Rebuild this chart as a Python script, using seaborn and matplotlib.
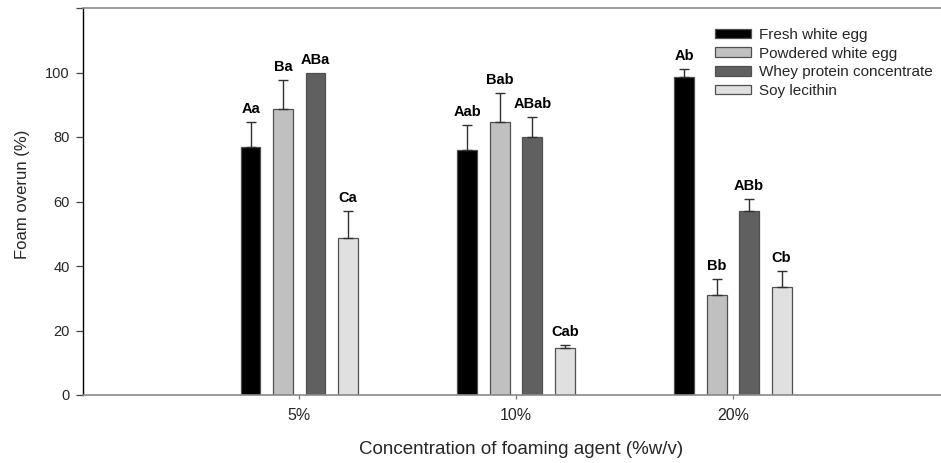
import matplotlib
matplotlib.use("Agg")
import matplotlib.pyplot as plt
import seaborn as sns
import pandas as pd
import numpy as np

# Foam overrun by foaming agent and concentration
concentrations = ["5%", "10%", "20%"]
agents = ["Fresh white egg", "Powdered white egg", "Whey protein concentrate", "Soy lecithin"]

fresh_egg = [76.8, 76.0, 98.5]
powdered_egg = [88.7, 84.5, 31.1]
whey = [100.0, 79.9, 57.0]
soy = [48.7, 14.5, 33.6]

fresh_egg_sd = [8.0, 7.8, 2.7]
powdered_egg_sd = [8.9, 9.0, 5.0]
whey_sd = [0.0, 6.2, 3.8]
soy_sd = [8.2, 1.0, 4.9]

fresh_egg_lbl = ["Aa", "Aab", "Ab"]
powdered_egg_lbl = ["Ba", "Bab", "Bb"]
whey_lbl = ["ABa", "ABab", "ABb"]
soy_lbl = ["Ca", "Cab", "Cb"]

colors = ["#000000", "#c0c0c0", "#606060", "#e0e0e0"]

values = [fresh_egg, powdered_egg, whey, soy]
errors = [fresh_egg_sd, powdered_egg_sd, whey_sd, soy_sd]
letters = [fresh_egg_lbl, powdered_egg_lbl, whey_lbl, soy_lbl]

df = pd.DataFrame({
    "concentration": [c for _ in agents for c in concentrations],
    "agent": [a for a in agents for _ in concentrations],
    "overrun": [v for series in values for v in series],
})

sns.set_theme(style="white")
plt.rcParams["font.family"] = ["Liberation Sans", "DejaVu Sans"]

fig = plt.figure(figsize=(9.41, 4.63), dpi=100)
W, H = 941, 463
ax = fig.add_axes([82.5 / W, 1 - 395 / H, (949.7 - 82.5) / W, (395 - 8) / H])

sns.barplot(
    data=df, x="concentration", y="overrun", hue="agent",
    order=concentrations, hue_order=agents, palette=colors,
    width=0.6, gap=0.39, errorbar=None, edgecolor="#505050",
    linewidth=0.9, ax=ax, legend=True,
)

# Upper-only error bars (skipped where the SD is zero) and significance letters
for container, err, lbl in zip(ax.containers, errors, letters):
    xs = np.array([p.get_x() + p.get_width() / 2 for p in container.patches])
    hs = np.array([p.get_height() for p in container.patches])
    err = np.asarray(err)
    has_err = err > 0
    ax.errorbar(xs[has_err], hs[has_err],
                yerr=[np.zeros(has_err.sum()), err[has_err]], fmt="none",
                ecolor="#303030", elinewidth=1.0, capsize=3.8, capthick=1.0,
                zorder=1)
    for x, h, e, t in zip(xs, hs, err, lbl):
        ax.annotate(t, (x, h + e), xytext=(0, 6), textcoords="offset pixels",
                    ha="center", va="bottom", fontsize=10.5,
                    fontweight="bold", color="#000000")

ax.set_xlim(-1, 3)
ax.set_ylim(0, 120)
ax.set_yticks([0, 20, 40, 60, 80, 100, 120])
ax.set_yticklabels(["0", "20", "40", "60", "80", "100", ""])

ax.set_xlabel("Concentration of foaming agent (%w/v)", fontsize=13.5)
ax.set_ylabel("Foam overun (%)", fontsize=12)
ax.xaxis.set_label_coords(0.5057, -0.119)
ax.yaxis.set_label_coords(-0.0605, 0.519)

ax.tick_params(axis="y", direction="out", length=5, width=0.9, color="#444444",
               labelsize=10.5, pad=4, left=True)
ax.tick_params(axis="x", direction="out", length=3, width=0.9, color="#777777",
               labelsize=11.5, pad=6, bottom=True)

for side in ["top", "bottom", "right"]:
    ax.spines[side].set_color("#8a8a8a")
    ax.spines[side].set_linewidth(1.2)
ax.spines["left"].set_color("#000000")
ax.spines["left"].set_linewidth(1.0)

leg = ax.legend(
    loc="upper left", bbox_to_anchor=(715 / W, 1 - 28 / H),
    bbox_transform=fig.transFigure, frameon=False, fontsize=11,
    handlelength=2.35, handleheight=0.6, handletextpad=0.5,
    labelspacing=0.3, borderpad=0, borderaxespad=0,
)
for patch in leg.get_patches():
    patch.set_edgecolor("#505050")

fig.savefig("out.png", dpi=100)
